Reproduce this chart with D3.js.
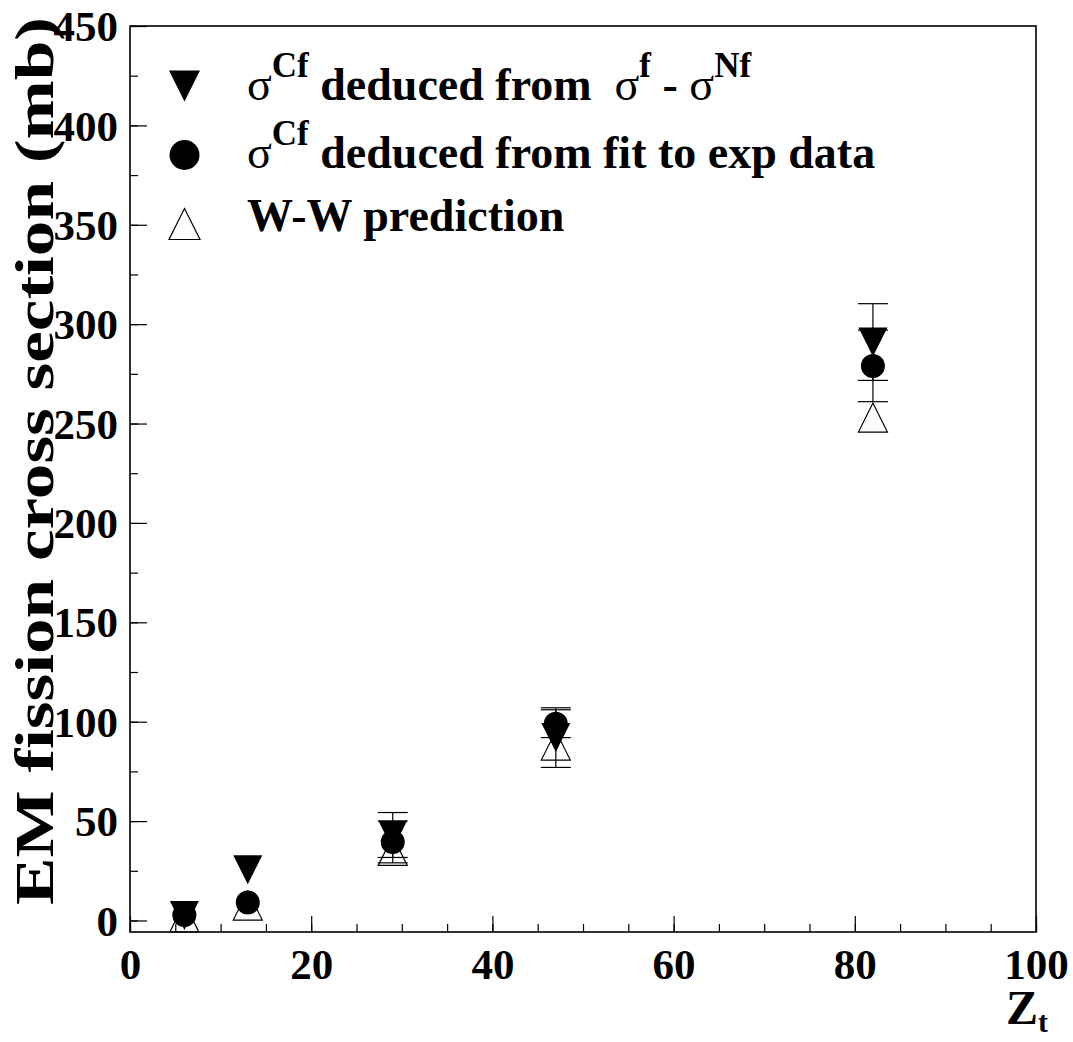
<!DOCTYPE html>
<html>
<head>
<meta charset="utf-8">
<script src="https://cdn.jsdelivr.net/npm/d3@7"></script>
<style>
  body { margin: 0; background: #fff; }
  svg { display: block; font-family: "Liberation Serif", "DejaVu Serif", serif; font-weight: bold; }
</style>
</head>
<body>
<div id="chart"></div>
<script>
// Data
const targetZ = [6, 13, 29, 47, 82];
const sigmaDiff = [2.5, 25.5, 43, 92, 291];       // sigma^Cf from sigma^f - sigma^Nf
const sigmaDiffErr = [0, 0, 11.3, 15, 19.3];
const sigmaFit = [2.8, 9, 39.5, 99, 279];          // sigma^Cf from fit to exp data
const sigmaFitErr = [0, 0, 10.5, 7, 18];
const sigmaWW = [1.5, 7.5, 35, 88, 253];           // W-W prediction

const xTicks = [0, 20, 40, 60, 80, 100];
const yTicks = [0, 50, 100, 150, 200, 250, 300, 350, 400, 450];

// Layout
const width = 1073;
const height = 1042;
const frame = { left: 130, right: 1036, top: 26, bottom: 932 };

const x = d3.scaleLinear().domain([0, 100]).range([frame.left, frame.right]);
const y = d3.scaleLinear().domain([-5.8, 450]).range([frame.bottom, frame.top]);

const svg = d3.select("#chart")
  .append("svg")
  .attr("width", width)
  .attr("height", height)
  .attr("viewBox", [0, 0, width, height]);

// Minor ticks (every 5 on x, every 25 on y), drawn inside the frame
svg.append("g")
  .attr("transform", `translate(0,${frame.bottom})`)
  .call(d3.axisBottom(x).tickValues(d3.range(0, 101, 5)).tickSize(-8).tickSizeOuter(0).tickFormat(""))
  .call(g => g.select(".domain").remove())
  .call(g => g.selectAll("text").remove());

svg.append("g")
  .attr("transform", `translate(${frame.left},0)`)
  .call(d3.axisLeft(y).tickValues(d3.range(0, 451, 25)).tickSize(-8).tickSizeOuter(0).tickFormat(""))
  .call(g => g.select(".domain").remove())
  .call(g => g.selectAll("text").remove());

// Major ticks with labels
const xAxis = svg.append("g")
  .attr("transform", `translate(0,${frame.bottom})`)
  .call(d3.axisBottom(x).tickValues(xTicks).tickSize(-16).tickSizeOuter(0).tickPadding(16));
xAxis.select(".domain").remove();
xAxis.selectAll("text")
  .attr("font-family", "Liberation Serif")
  .attr("font-weight", "bold")
  .attr("font-size", 43)
  .attr("fill", "#000");

const yAxis = svg.append("g")
  .attr("transform", `translate(${frame.left},0)`)
  .call(d3.axisLeft(y).tickValues(yTicks).tickSize(-17).tickSizeOuter(0).tickPadding(12));
yAxis.select(".domain").remove();
yAxis.selectAll("text")
  .attr("font-family", "Liberation Serif")
  .attr("font-weight", "bold")
  .attr("font-size", 43)
  .attr("dy", "0.34em")
  .attr("fill", "#000");

svg.selectAll(".tick line").attr("stroke", "#000").attr("stroke-width", 1.2);

// Frame
svg.append("rect")
  .attr("x", frame.left)
  .attr("y", frame.top)
  .attr("width", frame.right - frame.left)
  .attr("height", frame.bottom - frame.top)
  .attr("fill", "none")
  .attr("stroke", "#000")
  .attr("stroke-width", 1.6);

// Axis titles
svg.append("text")
  .attr("transform", "translate(53,17) rotate(-90)")
  .attr("text-anchor", "end")
  .attr("font-size", 54)
  .attr("textLength", 888)
  .attr("lengthAdjust", "spacingAndGlyphs")
  .text("EM fission cross section (mb)");

const zt = svg.append("text")
  .attr("x", 1048)
  .attr("y", 1024)
  .attr("text-anchor", "end")
  .attr("font-size", 48);
zt.append("tspan").text("Z");
zt.append("tspan").attr("font-size", 30).attr("dy", 8).text("t");

// Marker shapes
const TRI = 14.5;
const triDown = (cx, cy, s = TRI) => `M${cx - s},${cy - s}L${cx + s},${cy - s}L${cx},${cy + s}Z`;
const triUp = (cx, cy, s = TRI) => `M${cx - s},${cy + s}L${cx + s},${cy + s}L${cx},${cy - s}Z`;

const points = targetZ.map((z, i) => ({
  z,
  diff: sigmaDiff[i], diffErr: sigmaDiffErr[i],
  fit: sigmaFit[i], fitErr: sigmaFitErr[i],
  ww: sigmaWW[i]
}));

// Error bars
const errData = points.flatMap(d => [
  { z: d.z, v: d.diff, e: d.diffErr },
  { z: d.z, v: d.fit, e: d.fitErr }
]).filter(d => d.e > 0);

const err = svg.append("g").attr("stroke", "#000").attr("stroke-width", 1.2);
err.selectAll("line.bar")
  .data(errData)
  .join("line")
  .attr("class", "bar")
  .attr("x1", d => x(d.z)).attr("x2", d => x(d.z))
  .attr("y1", d => y(d.v - d.e)).attr("y2", d => y(d.v + d.e));
err.selectAll("line.cap")
  .data(errData.flatMap(d => [d.v - d.e, d.v + d.e].map(v => ({ z: d.z, v }))))
  .join("line")
  .attr("class", "cap")
  .attr("x1", d => x(d.z) - 15).attr("x2", d => x(d.z) + 15)
  .attr("y1", d => y(d.v)).attr("y2", d => y(d.v));

// W-W prediction: open triangles
svg.append("g").selectAll("path")
  .data(points)
  .join("path")
  .attr("d", d => triUp(x(d.z), y(d.ww)))
  .attr("fill", "none")
  .attr("stroke", "#000")
  .attr("stroke-width", 1.2);

// sigma^f - sigma^Nf: full triangles down
svg.append("g").selectAll("path")
  .data(points)
  .join("path")
  .attr("d", d => triDown(x(d.z), y(d.diff)))
  .attr("fill", "#000");

// fit: full circles
svg.append("g").selectAll("circle")
  .data(points)
  .join("circle")
  .attr("cx", d => x(d.z))
  .attr("cy", d => y(d.fit))
  .attr("r", 12)
  .attr("fill", "#000");

// Legend
const legendX = 184.5;
const textX = 247;
const legend = svg.append("g");

legend.append("path").attr("d", triDown(legendX, 86, 15.5)).attr("fill", "#000");
legend.append("circle").attr("cx", legendX).attr("cy", 155).attr("r", 15).attr("fill", "#000");
legend.append("path").attr("d", triUp(legendX, 224, 15.5)).attr("fill", "none").attr("stroke", "#000").attr("stroke-width", 1.2);

// sigma with a superscript; the next tspan drops back to the baseline via dy
const SUP = 23;
function sigmaSup(t, sup) {
  t.append("tspan").attr("font-weight", "normal").text("σ");
  t.append("tspan").attr("font-size", 35).attr("dy", -SUP).text(sup);
}

const l1 = legend.append("text").attr("x", textX).attr("y", 100).attr("font-size", 46)
  .style("white-space", "pre");
sigmaSup(l1, "Cf");
l1.append("tspan").attr("dy", SUP).text(" deduced from  ");
sigmaSup(l1, "f");
l1.append("tspan").attr("dy", SUP).text(" - ");
sigmaSup(l1, "Nf");

const l2 = legend.append("text").attr("x", textX).attr("y", 168).attr("font-size", 46)
  .style("white-space", "pre");
sigmaSup(l2, "Cf");
l2.append("tspan").attr("dy", SUP).text(" deduced from fit to exp data");

legend.append("text").attr("x", textX).attr("y", 231).attr("font-size", 46).text("W-W prediction");
</script>
</body>
</html>
